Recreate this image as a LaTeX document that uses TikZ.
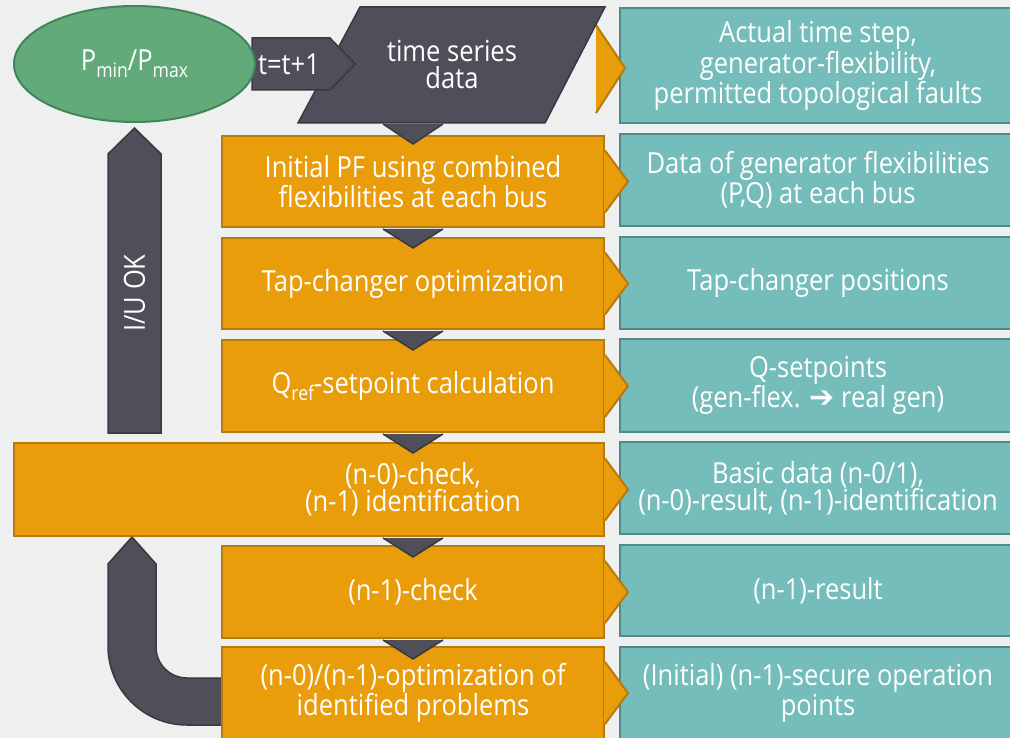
\documentclass[tikz,border=0pt]{standalone}
\usepackage{fontspec}
\setmainfont{Open Sans}[FakeStretch=0.88]
\newfontfamily\arrowfont{DejaVu Sans}
\usetikzlibrary{calc,shapes.geometric}

\definecolor{bg}{HTML}{EEF0EF}
\definecolor{orfill}{HTML}{E99D0A}
\definecolor{ordraw}{HTML}{B67B0C}
\definecolor{tlfill}{HTML}{75BDBA}
\definecolor{tldraw}{HTML}{4F8B89}
\definecolor{dkfill}{HTML}{4F4F5A}
\definecolor{dkdraw}{HTML}{383842}
\definecolor{grfill}{HTML}{62AA79}
\definecolor{grdraw}{HTML}{45835A}

% lowered, smaller index text
\newcommand\lowidx[1]{\raisebox{-7pt}{\fontsize{20}{20}\selectfont #1}}

\begin{document}
\begin{tikzpicture}[x=1pt,y=-1pt,
  txt/.style={text=white,font=\fontsize{29}{27}\selectfont,align=center,inner sep=0pt},
  procbox/.style={txt,draw=ordraw,fill=orfill,line width=2pt,minimum width=382pt},
  databox/.style={txt,draw=tldraw,fill=tlfill,line width=2.5pt,minimum width=396pt},
  darkshape/.style={fill=dkfill,draw=dkdraw,line width=1.5pt,line join=miter},
]
\useasboundingbox (0,0) rectangle (1010,738);
\clip (0,0) rectangle (1010,738);
\fill[bg] (0,0) rectangle (1010,738);

% result boxes (right column)
\node[databox,minimum height=115pt] (d1) at (818,65.5) {Actual time step,\\generator-flexibility,\\permitted topological faults};
\node[databox,minimum height=92pt] (d2) at (818,180) {Data of generator flexibilities\\(P,Q) at each bus};
\node[databox,minimum height=92pt] (d3) at (818,283) {Tap-changer positions};
\node[databox,minimum height=93pt] (d4) at (818,385.5) {Q-setpoints\\(gen-flex. {\arrowfont\fontsize{30}{27}\selectfont ➔} real gen)};
\node[databox,minimum height=92pt] (d5) at (818,488) {Basic data (n-0/1),\\(n-0)-result, (n-1)-identification};
\node[databox,minimum height=91pt] (d6) at (818,590.5) {(n-1)-result};
\node[databox,minimum height=92pt] (d7) at (818,693) {(Initial) (n-1)-secure operation\\points};

% feedback arrows on the left
\draw[darkshape] (108,433) -- (108,154) -- (134.5,128) -- (161,154) -- (161,433) -- cycle;
\node[txt,rotate=90] (iu) at (134.5,293) {I/U OK};
\draw[darkshape] (132,537) -- (156,564) -- (156,647)
  arc[start angle=180,end angle=270,radius=31pt] -- (226,678) -- (226,725) -- (187,725)
  arc[start angle=270,end angle=180,radius=79pt] -- (108,564) -- cycle;

% output pointer of the time series block
\fill[orfill] (596,25) -- (625,68) -- (596,113) -- cycle;
\draw[ordraw,line width=2pt] (596,25) -- (625,68) -- (596,113);

% process boxes (middle column)
\node[procbox,minimum height=91pt] (p1) at (413,181.5) {Initial PF using combined\\flexibilities at each bus};
\node[procbox,minimum height=91pt] (p2) at (413,283.5) {Tap-changer optimization};
\node[procbox,minimum height=92pt] (p3) at (413,386) {Q\lowidx{ref}-setpoint calculation};
\node[procbox,minimum width=590pt,minimum height=93pt] (p4) at (309,489.5) {};
\node[txt] (p4t) at (413,489.5) {(n-0)-check,\\(n-1) identification};
\node[procbox,minimum height=92pt] (p5) at (413,592) {(n-1)-check};
\node[procbox,minimum height=92pt] (p6) at (413,693) {(n-0)/(n-1)-optimization of\\identified problems};

% pointers from each process to its result
\foreach \n in {p1,p2,p3,p4,p5,p6}{
  \fill[orfill] ($(\n.east)+(-1,-31)$) -- ($(\n.east)+(23,0)$) -- ($(\n.east)+(-1,31)$) -- cycle;
  \draw[ordraw,line width=2pt] ($(\n.east)+(0,-31)$) -- ($(\n.east)+(23,0)$) -- ($(\n.east)+(0,31)$);
}

% time series input
\draw[darkshape] (360,7) -- (605,7) -- (545,123) -- (298,123) -- cycle;
\node[txt] (ts) at (452,65) {time series\\data};

% flow pointers between consecutive steps
\fill[dkfill] (383,124) -- (443,124) -- (413,144) -- cycle;
\draw[dkdraw,line width=1.5pt] (383,124) -- (413,144) -- (443,124);
\foreach \n in {p1,p2,p3,p5}{
  \fill[dkfill] ($(\n.south)+(-30,1)$) -- ($(\n.south)+(30,1)$) -- ($(\n.south)+(0,20)$) -- cycle;
  \draw[dkdraw,line width=1.5pt] ($(\n.south)+(-30,1)$) -- ($(\n.south)+(0,20)$) -- ($(\n.south)+(30,1)$);
}
\coordinate (p4s) at (p4t |- p4.south);
\fill[dkfill] ($(p4s)+(-30,1)$) -- ($(p4s)+(30,1)$) -- ($(p4s)+(0,20)$) -- cycle;
\draw[dkdraw,line width=1.5pt] ($(p4s)+(-30,1)$) -- ($(p4s)+(0,20)$) -- ($(p4s)+(30,1)$);

% time increment arrow
\draw[darkshape] (252,38) -- (330,38) -- (355,64) -- (330,90) -- (252,90) -- cycle;
\node[txt] (tinc) at (289,64) {t=t+1};

% power limits
\node[ellipse,draw=grdraw,fill=grfill,line width=2pt,minimum width=241pt,minimum height=116pt,txt] (pm) at (134.5,64) {P\lowidx{min}/P\lowidx{max}};
\end{tikzpicture}
\end{document}
